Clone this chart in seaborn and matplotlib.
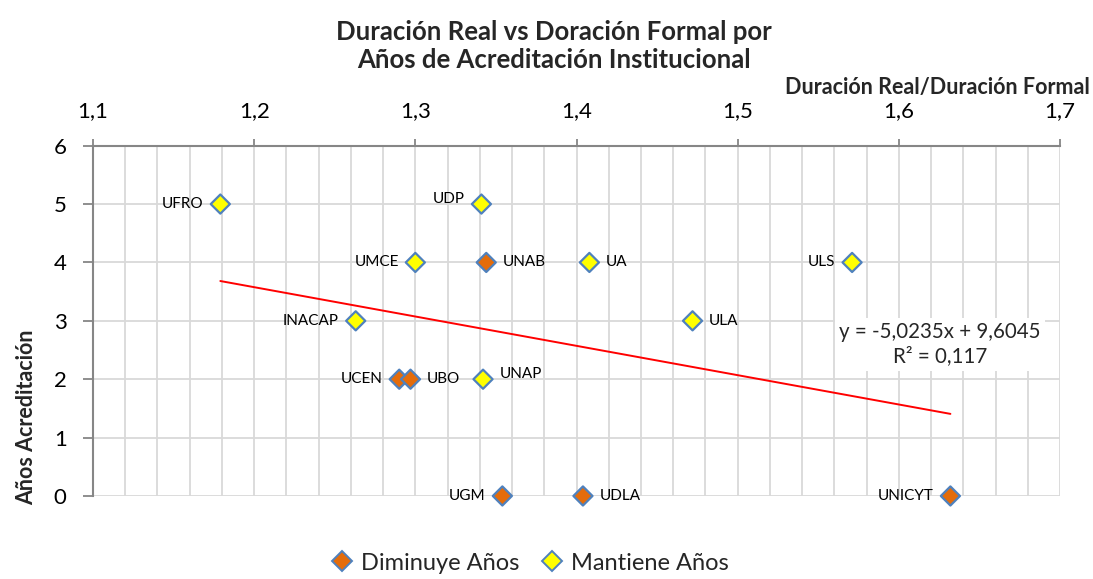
import matplotlib
matplotlib.use("Agg")
import matplotlib.pyplot as plt
from matplotlib.lines import Line2D
from matplotlib.ticker import MultipleLocator, FuncFormatter
import numpy as np
import pandas as pd
import seaborn as sns

# data
universidades = ["UNAB", "UCEN", "UBO", "UGM", "UDLA", "UNICYT",
                 "UFRO", "UDP", "UMCE", "UA", "ULS", "INACAP", "ULA", "UNAP"]
duracion_ratio = [1.344, 1.290, 1.297, 1.354, 1.404, 1.632,
                  1.179, 1.341, 1.300, 1.408, 1.571, 1.263, 1.472, 1.342]
anios_acreditacion = [4, 2, 2, 0, 0, 0,
                      5, 5, 4, 4, 4, 3, 3, 2]
grupo = ["Diminuye Años"] * 6 + ["Mantiene Años"] * 8
grupos = ["Diminuye Años", "Mantiene Años"]

# trendline as printed on the chart
pendiente = -5.0235
intercepto = 9.6045
r2 = 0.117

# label side for each point
lado_etiqueta = {"UNAB": "r", "UCEN": "l", "UBO": "r", "UGM": "l", "UDLA": "r",
                 "UNICYT": "l", "UFRO": "l", "UDP": "ul", "UMCE": "l", "UA": "r",
                 "ULS": "l", "INACAP": "l", "ULA": "r", "UNAP": "ur"}

df = pd.DataFrame({"uni": universidades, "ratio": duracion_ratio,
                   "anios": anios_acreditacion, "grupo": grupo})

sns.set_style("white")
plt.rcParams["font.family"] = ["Lato", "DejaVu Sans"]

colores = {"Diminuye Años": "#E46C0A", "Mantiene Años": "#FFFF00"}
borde = "#4F81BD"

fig = plt.figure(figsize=(10.93, 5.79), dpi=100)
ax = fig.add_axes([0.0851, 0.1434, 0.8847, 0.605])

sns.scatterplot(data=df, x="ratio", y="anios", hue="grupo", hue_order=grupos,
                palette=colores, marker="D", s=95, edgecolor=borde,
                linewidth=1.6, ax=ax, zorder=4, clip_on=False, legend=False)

xt = np.array([df["ratio"].min(), df["ratio"].max()])
ax.plot(xt, pendiente * xt + intercepto, color="#FF0000", lw=1.4, zorder=3)

for _, r in df.iterrows():
    lado = lado_etiqueta[r["uni"]]
    dx = 12 if "r" in lado else -12
    dy = 4 if "u" in lado else 0
    ax.annotate(r["uni"], (r["ratio"], r["anios"]), xytext=(dx, dy),
                textcoords="offset points", ha="left" if dx > 0 else "right",
                va="center", fontsize=11, color="black", zorder=5)

ax.text(1.6254, 2.6, f"y = {pendiente:.4f}x + {intercepto:.4f}".replace(".", ",")
        + f"\nR² = {r2:.3f}".replace(".", ","), ha="center",
        va="center", fontsize=14.8, linespacing=1.3, zorder=5,
        bbox=dict(facecolor="white", edgecolor="none", pad=3))

ax.set_xlim(1.1, 1.7)
ax.set_ylim(0, 6)
ax.xaxis.set_major_locator(MultipleLocator(0.1))
ax.xaxis.set_minor_locator(MultipleLocator(0.02))
ax.yaxis.set_major_locator(MultipleLocator(1))
ax.xaxis.set_major_formatter(FuncFormatter(lambda v, p: f"{v:.1f}".replace(".", ",")))
ax.xaxis.tick_top()
ax.tick_params(axis="x", which="major", length=5, width=1.3, color="#868686",
               pad=13, labelsize=16, labelcolor="black")
ax.tick_params(axis="x", which="minor", length=0)
ax.tick_params(axis="y", length=7, width=1.3, color="#868686", pad=12,
               labelsize=16, labelcolor="black", left=True)
ax.grid(True, which="both", axis="x", color="#D9D9D9", lw=1.3)
ax.grid(True, which="major", axis="y", color="#D9D9D9", lw=1.3)
ax.set_axisbelow(True)
for s in ["right", "bottom"]:
    ax.spines[s].set_visible(False)
for s in ["top", "left"]:
    ax.spines[s].set_color("#868686")
    ax.spines[s].set_linewidth(1.5)
ax.set_xlabel("")
ax.set_ylabel("")

fig.text(0.507, 1 - 32 / 579, "Duración Real vs Doración Formal por",
         ha="center", va="center", fontsize=18.5, fontweight="bold")
fig.text(0.507, 1 - 60 / 579, "Años de Acreditación Institucional",
         ha="center", va="center", fontsize=18.5, fontweight="bold")
fig.text(0.997, 1 - 88 / 579, "Duración Real/Duración Formal", ha="right",
         va="center", fontsize=15.5, fontweight="bold")
fig.text(27 / 1093, 1 - 417 / 579, "Años Acreditación", rotation=90, ha="center",
         va="center", fontsize=15.5, fontweight="bold")

handles = [Line2D([], [], marker="D", ls="", markersize=10, markerfacecolor=colores[g],
                  markeredgecolor=borde, markeredgewidth=1.4) for g in grupos]
fig.legend(handles, grupos, loc="center", bbox_to_anchor=(0.481, 1 - 563 / 579),
           ncol=2, frameon=False, fontsize=17, handletextpad=0.0,
           columnspacing=0.6, handlelength=1.6)

fig.savefig("out.png", dpi=100)
